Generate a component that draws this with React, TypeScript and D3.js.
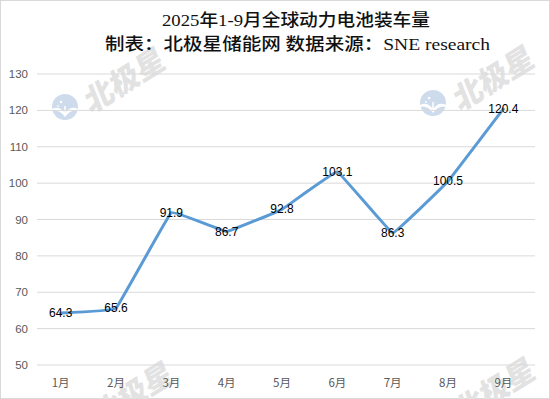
import React from "react";
import * as d3 from "d3";

const months = ["1月", "2月", "3月", "4月", "5月", "6月", "7月", "8月", "9月"];
const values = [64.3, 65.6, 91.9, 86.7, 92.8, 103.1, 86.3, 100.5, 120.4];
const yTicks = [50, 60, 70, 80, 90, 100, 110, 120, 130];
const title = "2025年1-9月全球动力电池装车量";
const subtitle = "制表：北极星储能网 数据来源：SNE research";

const W = 550;
const H = 399;

export default function App() {
  const x = d3.scaleBand<string>().domain(months).range([33, 531]);
  const y = d3.scaleLinear().domain([50, 130]).range([365, 74]);
  const cx = (m: string) => (x(m) as number) + x.bandwidth() / 2;
  const line = d3
    .line<number>()
    .x((_, i) => cx(months[i]))
    .y((v) => y(v))
    .curve(d3.curveCardinal.tension(0.85));
  const numFont = "'Liberation Sans', Arial, sans-serif";
  const cjkFont = "'Noto Sans CJK SC', sans-serif";
  const wm = (tx: number, ty: number, key: string) => (
    <text
      key={key}
      transform={`translate(${tx},${ty}) rotate(-32) skewX(-10)`}
      textAnchor="middle"
      dominantBaseline="central"
      fontFamily={cjkFont}
      fontWeight={900}
      fontSize={30}
      fill="#e2e2e2"
    >
      北极星
    </text>
  );
  const logo = (lx: number, ly: number, key: string) => (
    <g key={key} transform={`translate(${lx},${ly})`}>
      <circle r={13} fill="#cddbec" />
      <path
        d="M-13,2 Q-6,-2 0,6 Q6,-2 13,2 L13,4 Q6,2 0,10 Q-6,2 -13,4 Z"
        fill="#ffffff"
      />
      <path d="M0,6 L0,-1" stroke="#fff" strokeWidth={1.5} />
      <circle cx={-4} cy={-5} r={1.3} fill="#fff" />
      <circle cx={-7} cy={-1} r={0.9} fill="#fff" />
    </g>
  );
  return (
    <svg
      width={W}
      height={H}
      style={{ position: "absolute", left: 0, top: 0, background: "#fff" }}
    >
      <rect x={0.5} y={0.5} width={W - 1} height={H - 1} fill="#fff" stroke="#d9d9d9" />
      {wm(124, 78, "w1")}
      {wm(493, 76, "w2")}
      {wm(132, 392, "w3")}
      {wm(494, 388, "w4")}
      {logo(65, 107, "l1")}
      {logo(433, 103, "l2")}
      {yTicks.map((t) => (
        <g key={t}>
          <line x1={37} x2={535} y1={y(t)} y2={y(t)} stroke="#d9d9d9" strokeWidth={1} />
          <text
            x={28}
            y={y(t)}
            textAnchor="end"
            dominantBaseline="central"
            fontFamily={numFont}
            fontSize={11.5}
            fill="#595959"
          >
            {t}
          </text>
        </g>
      ))}
      {months.map((m) => (
        <text
          key={m}
          x={cx(m)}
          y={382}
          textAnchor="middle"
          dominantBaseline="central"
          fontFamily={cjkFont}
          fontSize={11.5}
          fill="#595959"
        >
          {m}
        </text>
      ))}
      <path
        d={line(values) || ""}
        fill="none"
        stroke="#5b9bd5"
        strokeWidth={3}
        strokeLinecap="round"
        strokeLinejoin="round"
      />
      {values.map((v, i) => (
        <text
          key={i}
          x={cx(months[i])}
          y={y(v)}
          textAnchor="middle"
          dominantBaseline="central"
          fontFamily={numFont}
          fontSize={12}
          fill="#000"
        >
          {v.toFixed(1)}
        </text>
      ))}
      <text
        x={162}
        y={26}
        textLength={268}
        lengthAdjust="spacingAndGlyphs"
        fontFamily="'Liberation Serif', 'Noto Sans CJK SC', serif"
        fontWeight={500}
        fontSize={17}
        fill="#111"
      >
        {title}
      </text>
      <text
        x={105}
        y={50}
        textLength={385}
        lengthAdjust="spacingAndGlyphs"
        fontFamily="'Liberation Serif', 'Noto Sans CJK SC', serif"
        fontWeight={500}
        fontSize={17}
        fill="#111"
      >
        {subtitle}
      </text>
    </svg>
  );
}
